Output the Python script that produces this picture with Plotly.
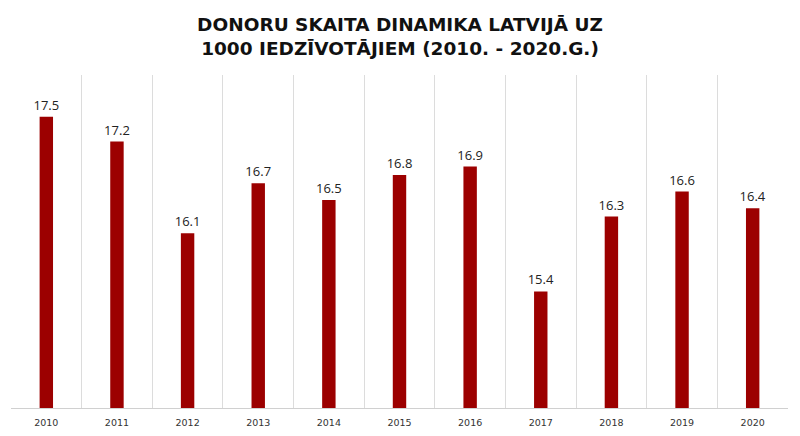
import plotly.graph_objects as go

# donors per 1000 inhabitants, Latvia
years = ["2010", "2011", "2012", "2013", "2014", "2015", "2016", "2017", "2018", "2019", "2020"]
donors = [17.5, 17.2, 16.1, 16.7, 16.5, 16.8, 16.9, 15.4, 16.3, 16.6, 16.4]

fig = go.Figure(go.Bar(x=years, y=donors,
                       marker=dict(color="#9c0000", line=dict(width=0)),
                       width=0.19,
                       text=[f"{v:.1f}" for v in donors],
                       textposition="outside",
                       constraintext="none",
                       textfont=dict(size=13, color="#222222"),
                       cliponaxis=False))

fig.update_layout(width=800, height=436,
                  margin=dict(l=11, r=12, t=75, b=28, autoexpand=False),
                  plot_bgcolor="white", paper_bgcolor="white",
                  font=dict(family="Open Sans, sans-serif"),
                  title=dict(text="<b>DONORU SKAITA DINAMIKA LATVIJĀ UZ<br>1000 IEDZĪVOTĀJIEM (2010. - 2020.G.)</b>",
                             x=0.5, xanchor="center", yref="container", y=0.93, yanchor="middle",
                             font=dict(family="DejaVu Sans, sans-serif", size=18.5, color="#111111")),
                  showlegend=False)

fig.update_xaxes(tickson="boundaries", showgrid=True, gridcolor="#dcdcdc", gridwidth=1,
                 showline=True, linecolor="#d0d0d0", ticks="", automargin=False,
                 ticklabelstandoff=6,
                 tickfont=dict(family="DejaVu Sans, sans-serif", size=9.5, color="#333333"))
fig.update_yaxes(range=[14, 18], visible=False, automargin=False)

# page body has a default margin, drop it so the figure sits at 0,0
fig.write_html("out.html", config={"displayModeBar": False},
               post_script="document.body.style.margin='0';")
